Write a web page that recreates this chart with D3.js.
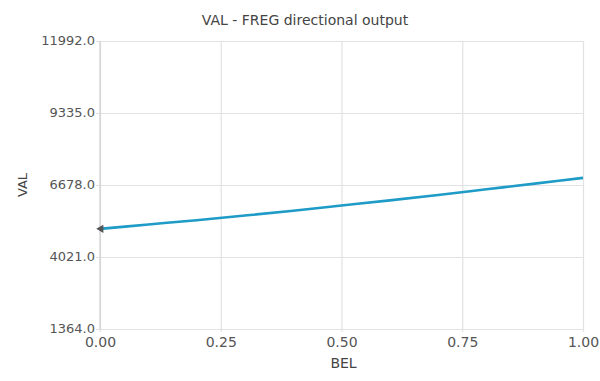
<!DOCTYPE html>
<html><head><meta charset="utf-8">
<script src="https://cdn.jsdelivr.net/npm/d3@7"></script>
<style>body{margin:0;background:#fff}svg{display:block}text{font-family:"DejaVu Sans",Verdana,sans-serif}</style>
</head><body>
<svg id="c" width="600" height="381"></svg>
<script>
const title = "VAL - FREG directional output";
const xLabel = "BEL";
const yLabel = "VAL";
const xValues = [0, 0.1, 0.2, 0.3, 0.4, 0.5, 0.6, 0.7, 0.8, 0.9, 1.0];
const yValues = [5060, 5220, 5380, 5550, 5730, 5920, 6110, 6310, 6520, 6730, 6940];
const xTicks = [0, 0.25, 0.5, 0.75, 1.0];
const yTicks = [1364.0, 4021.0, 6678.0, 9335.0, 11992.0];

const svg = d3.select("#c");
const m = {l:100, r:17, t:41, b:52};
const W = 600, H = 381;
const x = d3.scaleLinear().domain([0,1]).range([m.l, W-m.r]);
const y = d3.scaleLinear().domain([1364, 11992]).range([H-m.b, m.t]);

const gx = svg.append("g").attr("transform",`translate(0,${H-m.b})`)
  .call(d3.axisBottom(x).tickValues(xTicks).tickFormat(d3.format(".2f")).tickSize(-(H-m.b-m.t)).tickPadding(4));
const gy = svg.append("g").attr("transform",`translate(${m.l},0)`)
  .call(d3.axisLeft(y).tickValues(yTicks).tickFormat(d3.format(".1f")).tickSize(-(W-m.r-m.l)).tickPadding(5));
[gx, gy].forEach(g=>{
  g.select(".domain").remove();
  g.selectAll(".tick line").attr("stroke","#e2e2e2").attr("stroke-width",1.2);
  g.selectAll(".tick text").attr("fill","#555").attr("font-size",13);
});
gy.selectAll(".tick text").attr("dy","0.3em");
// small outer tick extension
gy.selectAll(".tick").append("line").attr("x1",-4).attr("x2",0).attr("stroke","#e2e2e2").attr("stroke-width",1.2);
gx.selectAll(".tick").append("line").attr("y1",0).attr("y2",3).attr("stroke","#e2e2e2").attr("stroke-width",1.2);
gx.selectAll(".tick text").attr("y",18).attr("dy",0).attr("font-size",14);
// left axis line
svg.append("line").attr("x1",m.l).attr("x2",m.l).attr("y1",m.t).attr("y2",H-m.b).attr("stroke","#d0d0d0").attr("stroke-width",1.2);

const line = d3.line().x((d,i)=>x(xValues[i])).y(d=>y(d)).curve(d3.curveMonotoneX);
svg.append("path").datum(yValues).attr("d",line).attr("fill","none").attr("stroke","#1e9bc6").attr("stroke-width",2.6);

// start marker
svg.append("path")
  .attr("d", d3.symbol().type(d3.symbolTriangle).size(30))
  .attr("transform",`translate(${x(xValues[0])+1},${y(yValues[0])}) rotate(-90)`)
  .attr("fill","#555");

svg.append("text").attr("x",305).attr("y",25).attr("text-anchor","middle")
  .attr("font-size",14).attr("fill","#444").text(title);
svg.append("text").attr("x",(m.l+W-m.r)/2 + 2).attr("y",368).attr("text-anchor","middle")
  .attr("font-size",14).attr("fill","#444").text(xLabel);
svg.append("text").attr("transform",`translate(27,${(m.t+H-m.b)/2}) rotate(-90)`).attr("text-anchor","middle")
  .attr("font-size",13).attr("fill","#444").text(yLabel);
</script>
</body></html>
